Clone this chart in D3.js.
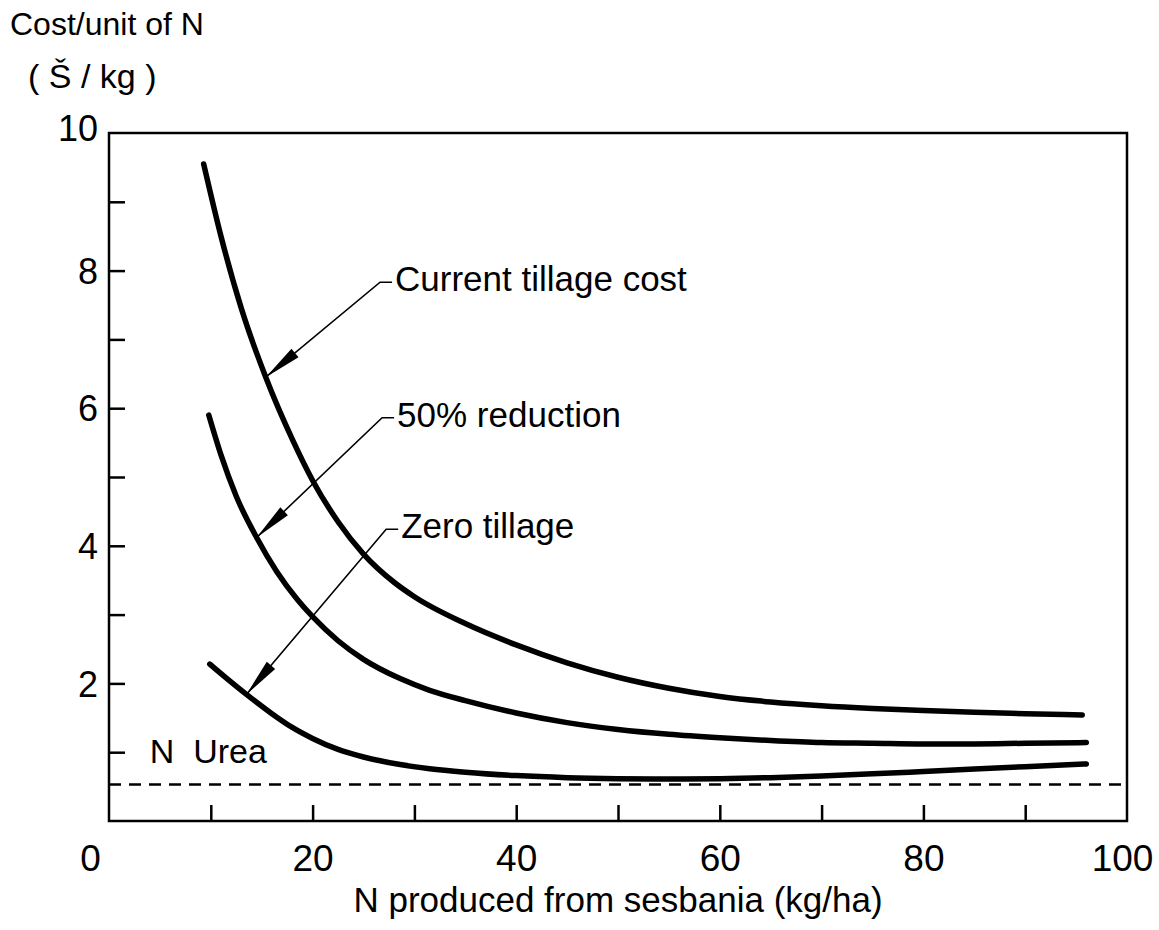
<!DOCTYPE html>
<html>
<head>
<meta charset="utf-8">
<script src="https://cdn.jsdelivr.net/npm/d3@7"></script>
<style>
  body { margin: 0; background: #fff; }
  text { font-family: 'Liberation Sans', Arial, sans-serif; fill: #000; }
</style>
</head>
<body>
<svg id="chart"></svg>
<script>
// values
let currentX = [9.3, 11, 13, 15.4, 18, 20, 22.5, 25, 28, 30, 35, 40, 45, 50, 55, 60, 65, 70, 75, 80, 85, 90, 95.6];
let currentY = [9.55, 8.5, 7.45, 6.45, 5.55, 4.95, 4.35, 3.88, 3.47, 3.26, 2.87, 2.56, 2.3, 2.09, 1.93, 1.81, 1.73, 1.675, 1.635, 1.605, 1.58, 1.56, 1.54];

let halfX = [9.8, 11, 12.5, 14.5, 16.5, 18.5, 20, 22.5, 25, 28.6, 31.5, 35, 40, 45, 50, 55, 60, 65, 70, 75, 80, 85, 90, 96];
let halfY = [5.9, 5.32, 4.72, 4.12, 3.62, 3.22, 2.97, 2.62, 2.35, 2.07, 1.9, 1.75, 1.57, 1.43, 1.33, 1.26, 1.21, 1.17, 1.14, 1.13, 1.12, 1.12, 1.13, 1.14];

let zeroX = [9.9, 11.5, 13.5, 16, 18, 20, 22.5, 25, 28.6, 31.5, 35, 40, 45, 50, 55, 60, 65, 70, 75, 80, 85, 90, 96];
let zeroY = [2.28, 2.08, 1.84, 1.56, 1.36, 1.2, 1.04, 0.93, 0.82, 0.76, 0.71, 0.66, 0.63, 0.615, 0.61, 0.615, 0.63, 0.655, 0.685, 0.72, 0.755, 0.79, 0.83];

let ureaLevel = 0.53;

let xLabelTicks = [0, 20, 40, 60, 80, 100];
let xMarkTicks = [10, 20, 30, 40, 50, 60, 70, 80, 90];
let yLabelTicks = [2, 4, 6, 8, 10];
let yMarkTicks = [1, 2, 3, 4, 5, 6, 7, 8, 9];

// curve labels: text start (x, y) and arrow tip on the curve
let labelNames = ['Current tillage cost', '50% reduction', 'Zero tillage'];
let labelAt = [[28.1, 7.70], [28.3, 5.73], [28.7, 4.11]];
let arrowTip = [[15.4, 6.45], [14.5, 4.12], [13.5, 1.84]];

let width = 1159;
let height = 930;
let margin = {top: 133, right: 32, bottom: 109, left: 109};
let w = width - margin.left - margin.right;
let h = height - margin.top - margin.bottom;

let svg = d3.select('#chart')
        .attr('width', width)
        .attr('height', height);

let defs = svg.append('defs');
defs.append('marker')
        .attr('id', 'head')
        .attr('markerUnits', 'userSpaceOnUse')
        .attr('viewBox', '-40 -8 42 16')
        .attr('refX', 0)
        .attr('refY', 0)
        .attr('markerWidth', 42)
        .attr('markerHeight', 16)
        .attr('orient', 'auto')
        .append('path')
        .attr('d', 'M0,0 L-38,-5.5 L-38,5.5 Z')
        .attr('fill', '#000');

let g = svg.append('g')
        .attr('transform', 'translate(' + margin.left + ',' + margin.top + ')');

let xScale = d3.scaleLinear().domain([0, 100]).range([0, w]);
let yScale = d3.scaleLinear().domain([0, 10]).range([h, 0]);

// frame
g.append('rect')
        .attr('width', w)
        .attr('height', h)
        .attr('fill', 'none')
        .attr('stroke', '#000')
        .attr('stroke-width', 2.5);

// inward tick marks
g.append('g')
        .attr('transform', 'translate(0,' + h + ')')
        .call(d3.axisBottom(xScale).tickValues(xMarkTicks).tickSize(-16).tickFormat(''))
        .call(a => a.select('.domain').remove())
        .selectAll('line').attr('stroke-width', 2.5);

g.append('g')
        .call(d3.axisLeft(yScale).tickValues(yMarkTicks).tickSize(-16).tickFormat(''))
        .call(a => a.select('.domain').remove())
        .selectAll('line').attr('stroke-width', 2.5);

// tick labels
let xLab = g.append('g')
        .attr('transform', 'translate(0,' + h + ')')
        .call(d3.axisBottom(xScale).tickValues(xLabelTicks).tickSize(0).tickPadding(24))
        .call(a => a.select('.domain').remove());
xLab.selectAll('text')
        .style('font-size', '37px')
        .attr('font-family', null)
        .attr('dx', d => d === 0 ? -19 : (d === 100 ? -5 : 0));

let yLab = g.append('g')
        .call(d3.axisLeft(yScale).tickValues(yLabelTicks).tickSize(0).tickPadding(11))
        .call(a => a.select('.domain').remove());
yLab.selectAll('text')
        .style('font-size', '36px')
        .attr('font-family', null)
        .attr('dy', d => d === 10 ? '0.2em' : '0.35em');

// urea reference line
g.append('line')
        .attr('x1', xScale(0))
        .attr('x2', xScale(100))
        .attr('y1', yScale(ureaLevel))
        .attr('y2', yScale(ureaLevel))
        .attr('stroke', '#000')
        .attr('stroke-width', 2.5)
        .attr('stroke-dasharray', '12,8');

g.append('text')
        .attr('x', xScale(4))
        .attr('y', yScale(0.84))
        .style('font-size', '34px')
        .style('white-space', 'pre')
        .text('N  Urea');

// curves
let line = d3.line()
        .x(d => xScale(d[0]))
        .y(d => yScale(d[1]))
        .curve(d3.curveMonotoneX);

let series = [d3.zip(currentX, currentY), d3.zip(halfX, halfY), d3.zip(zeroX, zeroY)];

g.selectAll('path.curve')
        .data(series)
        .enter()
        .append('path')
        .attr('class', 'curve')
        .attr('d', line)
        .attr('fill', 'none')
        .attr('stroke', '#000')
        .attr('stroke-width', 5.5)
        .attr('stroke-linecap', 'round');

// labels with leader arrows
labelNames.forEach((name, i) => {
    let tx = xScale(labelAt[i][0]);
    let ty = yScale(labelAt[i][1]);
    let ex = tx - 15;
    let ey = ty - 9;
    g.append('path')
            .attr('d', 'M' + (tx - 3) + ',' + ey + ' L' + ex + ',' + ey +
                    ' L' + xScale(arrowTip[i][0]) + ',' + yScale(arrowTip[i][1]))
            .attr('fill', 'none')
            .attr('stroke', '#000')
            .attr('stroke-width', 1.6)
            .attr('marker-end', 'url(#head)');
    g.append('text')
            .attr('x', tx)
            .attr('y', ty)
            .style('font-size', '35px')
            .text(name);
});

// axis titles
svg.append('text')
        .attr('x', 10)
        .attr('y', 35)
        .style('font-size', '32px')
        .text('Cost/unit of N');

svg.append('text')
        .attr('x', 28)
        .attr('y', 88)
        .style('font-size', '34px')
        .style('white-space', 'pre')
        .text('( Š / kg )');

svg.append('text')
        .attr('x', 618)
        .attr('y', 912)
        .style('text-anchor', 'middle')
        .style('font-size', '35px')
        .text('N produced from sesbania (kg/ha)');
</script>
</body>
</html>
